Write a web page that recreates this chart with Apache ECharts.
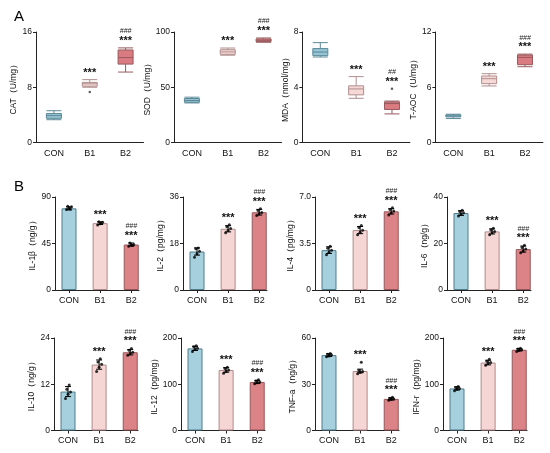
<!DOCTYPE html>
<html><head><meta charset="utf-8">
<script src="https://cdn.jsdelivr.net/npm/echarts@6/dist/echarts.min.js"></script>
<style>html,body{margin:0;padding:0;background:#fff}#c{width:550px;height:453px}</style>
</head><body><div id="c"></div>
<script>
// ---------- DATA ----------
const groups = ['CON', 'B1', 'B2'];

// Panel A: boxplots [min, Q1, median, Q3, max]
const catBox  = [[3.3, 3.5, 3.9, 4.2, 4.6], [8.0, 8.15, 8.5, 8.7, 9.1], [10.2, 11.35, 12.3, 13.4, 13.7]];
const catOutliers = [[1, 7.3]];
const sodBox  = [[35.8, 36.4, 38, 39.8, 41], [79, 79.8, 82, 84, 85.5], [90.7, 91.3, 92.5, 93.7, 94.6]];
const sodOutliers = [];
const mdaBox  = [[6.19, 6.29, 6.55, 6.8, 7.23], [3.2, 3.45, 3.88, 4.1, 4.77], [2.07, 2.39, 2.82, 2.94, 3.0]];
const mdaOutliers = [[2, 3.9]];
const taocBox = [[2.6, 2.78, 2.89, 3.0, 3.07], [6.14, 6.39, 6.93, 7.22, 7.47], [8.23, 8.45, 9.24, 9.5, 9.6]];
const taocOutliers = [];

// Panel B: bar means, SD and individual points
const il1bMean = [79, 64.7, 44];
const il1bSd   = [1.5, 1.3, 1.5];
const il1bPts  = [[78, 79, 80.5, 81, 78.5], [63, 64, 65.5, 66, 64.5], [42.3, 43.5, 44, 45.5, 43]];
const il2Mean = [14.9, 23.7, 30.1];
const il2Sd   = [1.4, 1.2, 1.1];
const il2Pts  = [[12.7, 14, 15, 16, 16.3], [22.2, 23, 23.8, 24.5, 25.3], [28.8, 29.5, 30, 30.8, 31.5]];
const il4Mean = [3.0, 4.51, 5.92];
const il4Sd   = [0.25, 0.27, 0.2];
const il4Pts  = [[2.65, 2.85, 3.0, 3.15, 3.3], [4.15, 4.35, 4.5, 4.7, 4.85], [5.65, 5.8, 5.95, 6.05, 6.2]];
const il6Mean = [33.1, 25.2, 17.6];
const il6Sd   = [1.0, 1.1, 1.3];
const il6Pts  = [[31.8, 32.6, 33.2, 33.8, 34.3], [23.8, 24.6, 25.2, 25.8, 26.6], [16, 16.8, 17.6, 18.3, 19.3]];
const il10Mean = [10.1, 17.1, 20.3];
const il10Sd   = [1.3, 1.2, 0.7];
const il10Pts  = [[8.3, 9.4, 10, 10.7, 11.8], [15.3, 16.4, 17.2, 17.8, 18.6], [19.5, 20, 20.3, 20.8, 21.3]];
const il12Mean = [177.5, 130.9, 105];
const il12Sd   = [4.5, 5, 3.5];
const il12Pts  = [[171, 175, 178, 181, 183], [124, 128, 131, 134, 137], [101, 103, 105, 107, 110]];
const tnfMean = [48.9, 38.6, 20.5];
const tnfSd   = [0.9, 1.2, 0.7];
const tnfPts  = [[47.8, 48.4, 49, 49.5, 50], [36.8, 37.6, 38.2, 38.9, 44.3], [19.6, 20.1, 20.5, 21, 21.5]];
const ifnMean = [90.9, 146.9, 174.5];
const ifnSd   = [3.5, 5, 2.5];
const ifnPts  = [[86, 89, 91, 93, 95], [141, 145, 147, 150, 154], [171, 173, 174.5, 176, 178]];

// significance marks
const starsStd = ['', '***', '***'];
const hashStd  = ['', '', '###'];
const hashMda  = ['', '', '##'];

// y axis maxima (ticks at 0, max/2, max)
const yMaxA = [16, 100, 8, 12];
const yMaxB = [90, 36, 7, 40, 24, 200, 60, 200];

// ---------- STYLE / LAYOUT ----------
const FONT = '"Liberation Sans", Arial, sans-serif';
const boxColors = [{fill:'#96c4d3', border:'#5d8a99'}, {fill:'#f6d9d7', border:'#b08e8e'}, {fill:'#d97b80', border:'#985a5e'}];
const barColors = [{fill:'#a6d0dd', border:'#4f7d8c'}, {fill:'#f5d6d4', border:'#b08a8a'}, {fill:'#dc8387', border:'#965659'}];
const jitter = [-2.5, 0, 2.5, -1.2, 1.2];

const option = {
  animation: false,
  backgroundColor: '#fff',
  title: [
    {text:'A', left:9, top:4, textStyle:{fontSize:15, fontWeight:'normal', color:'#000', fontFamily:FONT}},
    {text:'B', left:9, top:174, textStyle:{fontSize:15, fontWeight:'normal', color:'#000', fontFamily:FONT}}
  ],
  grid: [], xAxis: [], yAxis: [], series: []
};

function yAxisCfg(g, max, name, gap, dec) {
  return {
    type:'value', gridIndex:g, min:0, max:max, interval:max/2,
    name:name, nameLocation:'middle', nameGap:gap,
    nameTextStyle:{fontSize:8.5, color:'#111', fontFamily:FONT},
    axisLine:{show:true, onZero:false, lineStyle:{color:'#222', width:1}},
    axisTick:{show:true, length:3, lineStyle:{color:'#222'}},
    axisLabel:{fontSize:8.5, color:'#111', margin:4, fontFamily:FONT,
      formatter: v => v === 0 ? '0' : (dec ? v.toFixed(1) : String(v))},
    splitLine:{show:false}
  };
}

function sigSeries(g, anchors, stars, hashes) {
  return {
    type:'custom', xAxisIndex:g, yAxisIndex:g, silent:true, z:10,
    data: anchors.map((v, i) => [i, v]),
    encode:{x:0, y:1},
    renderItem: (params, api) => {
      const i = params.dataIndex;
      if (!stars[i]) return;
      const p = api.coord([api.value(0), api.value(1)]);
      const starC = p[1] - 10;
      const ch = [{type:'text', style:{text:stars[i], x:p[0], y:starC + 3, align:'center', verticalAlign:'middle',
        font:'bold 11px ' + FONT, fill:'#111'}}];
      if (hashes[i]) ch.push({type:'text', style:{text:hashes[i], x:p[0], y:starC - 6.5, align:'center', verticalAlign:'middle',
        font:'italic 7px ' + FONT, fill:'#222'}});
      return {type:'group', children:ch};
    }
  };
}

function addBoxPanel(g, grid, box, outliers, max, name, gap, hashes) {
  option.grid.push(grid);
  option.xAxis.push({
    type:'category', gridIndex:g, data:groups, boundaryGap:true,
    axisLine:{lineStyle:{color:'#222', width:1}},
    axisTick:{alignWithLabel:true, length:3, lineStyle:{color:'#222'}},
    axisLabel:{fontSize:9, color:'#111', margin:7, interval:0, fontFamily:FONT}
  });
  option.yAxis.push(yAxisCfg(g, max, name, gap, false));
  option.series.push({
    type:'boxplot', xAxisIndex:g, yAxisIndex:g, boxWidth:[15, 15],
    data: box.map((b, i) => ({value:b, itemStyle:{color:boxColors[i].fill, borderColor:boxColors[i].border, borderWidth:1}}))
  });
  option.series.push({
    type:'scatter', xAxisIndex:g, yAxisIndex:g, symbolSize:2.5, itemStyle:{color:'#333'},
    data: outliers
  });
  const anchors = box.map((b, i) => {
    let m = b[4];
    outliers.forEach(o => { if (o[0] === i && o[1] > m) m = o[1]; });
    return m;
  });
  option.series.push(sigSeries(g, anchors, starsStd, hashes));
}

function addBarPanel(g, grid, mean, sd, pts, max, name, gap, dec) {
  option.grid.push(grid);
  option.xAxis.push({
    type:'value', gridIndex:g, min:-0.45, max:2.25,
    axisLine:{show:true, onZero:false, lineStyle:{color:'#222', width:1}},
    axisTick:{show:true, customValues:[0, 1, 2], length:3, lineStyle:{color:'#222'}},
    axisLabel:{customValues:[0, 1, 2], formatter: v => groups[Math.round(v)], fontSize:9, color:'#111', margin:6, fontFamily:FONT},
    splitLine:{show:false}
  });
  option.yAxis.push(yAxisCfg(g, max, name, gap, dec));
  option.series.push({
    type:'bar', xAxisIndex:g, yAxisIndex:g, barWidth:15,
    data: mean.map((m, i) => ({value:[i, m], itemStyle:{color:barColors[i].fill, borderColor:barColors[i].border, borderWidth:1}}))
  });
  option.series.push({
    type:'custom', xAxisIndex:g, yAxisIndex:g, silent:true, z:5,
    data: mean.map((m, i) => [i, m - sd[i], m + sd[i]]),
    encode:{x:0, y:[1, 2]},
    renderItem: (params, api) => {
      const x = api.value(0);
      const a = api.coord([x, api.value(1)]), b = api.coord([x, api.value(2)]);
      const c = 3, st = {stroke:'#000', lineWidth:1};
      return {type:'group', children:[
        {type:'line', shape:{x1:a[0], y1:a[1], x2:b[0], y2:b[1]}, style:st},
        {type:'line', shape:{x1:a[0]-c, y1:a[1], x2:a[0]+c, y2:a[1]}, style:st},
        {type:'line', shape:{x1:b[0]-c, y1:b[1], x2:b[0]+c, y2:b[1]}, style:st}
      ]};
    }
  });
  const sdata = [];
  pts.forEach((arr, i) => arr.forEach((v, k) => sdata.push({value:[i, v], symbolOffset:[jitter[k], 0]})));
  option.series.push({
    type:'scatter', xAxisIndex:g, yAxisIndex:g, symbolSize:3, z:6, itemStyle:{color:'#000'}, data:sdata
  });
  const anchors = mean.map((m, i) => Math.max(m + sd[i], ...pts[i]));
  option.series.push(sigSeries(g, anchors, starsStd, hashStd));
}

// Row A
addBoxPanel(0, {left:36,    top:32, width:107.5, height:110.5}, catBox,  catOutliers,  yMaxA[0], 'CAT（U/mg）',   11, hashStd);
addBoxPanel(1, {left:174,   top:32, width:107.5, height:110.5}, sodBox,  sodOutliers,  yMaxA[1], 'SOD（U/mg）',   17, hashStd);
addBoxPanel(2, {left:302.4, top:32, width:107.5, height:110.5}, mdaBox,  mdaOutliers,  yMaxA[2], 'MDA（nmol/mg）', 9, hashMda);
addBoxPanel(3, {left:435.4, top:32, width:107.5, height:110.5}, taocBox, taocOutliers, yMaxA[3], 'T-AOC（U/mg）', 10, hashStd);

// Row B top
addBarPanel(4, {left:55,  top:197, width:84, height:93}, il1bMean, il1bSd, il1bPts, yMaxB[0], 'IL-1β（ng/g）', 12, false);
addBarPanel(5, {left:183, top:197, width:84, height:93}, il2Mean,  il2Sd,  il2Pts,  yMaxB[1], 'IL-2（pg/mg）', 10, false);
addBarPanel(6, {left:315, top:197, width:84, height:93}, il4Mean,  il4Sd,  il4Pts,  yMaxB[2], 'IL-4（pg/mg）', 18, true);
addBarPanel(7, {left:447, top:197, width:84, height:93}, il6Mean,  il6Sd,  il6Pts,  yMaxB[3], 'IL-6（ng/g）',   7, false);

// Row B bottom
addBarPanel(8,  {left:54,  top:338, width:84, height:92.5}, il10Mean, il10Sd, il10Pts, yMaxB[4], 'IL-10（ng/g）',  9, false);
addBarPanel(9,  {left:181, top:338, width:84, height:92.5}, il12Mean, il12Sd, il12Pts, yMaxB[5], 'IL-12（pg/mg）', 18, false);
addBarPanel(10, {left:315, top:338, width:84, height:92.5}, tnfMean,  tnfSd,  tnfPts,  yMaxB[6], 'TNF-a（ng/g）', 13, false);
addBarPanel(11, {left:443, top:338, width:84, height:92.5}, ifnMean,  ifnSd,  ifnPts,  yMaxB[7], 'IFN-r（pg/mg）', 12, false);

const chart = echarts.init(document.getElementById('c'), null, {renderer:'canvas'});
chart.setOption(option);
</script>
</body></html>
